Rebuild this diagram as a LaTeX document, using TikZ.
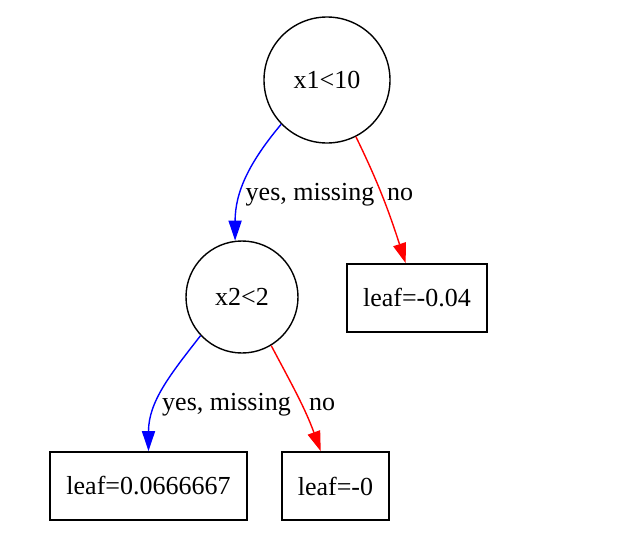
\documentclass[tikz,border=0pt]{standalone}
\usepackage{fontspec}
\setmainfont{Liberation Serif}
\usetikzlibrary{arrows.meta}
\begin{document}
\begin{tikzpicture}[x=1pt,y=-1pt,
  font=\fontsize{26}{30}\selectfont,
  split/.style={circle,draw,line width=1.4pt,inner sep=0pt,minimum size=#1},
  leafbox/.style={rectangle,draw,line width=1.6pt,inner sep=0pt,minimum height=68pt,minimum width=#1},
  edgelbl/.style={anchor=base,inner sep=0pt},
  yesedge/.style={draw={rgb,255:red,0;green,0;blue,255},line width=1.4pt,-{Triangle[length=20pt,width=13pt]}},
  noedge/.style={draw={rgb,255:red,255;green,0;blue,0},line width=1.4pt,-{Triangle[length=20pt,width=13pt]}}
]
\useasboundingbox (0,0) rectangle (633,558);
\node[split=126pt] (n0) at (327,80) {x1<10};
\node[split=112pt] (n1) at (242,297) {x2<2};
\node[leafbox=140pt] (n2) at (417,298) {leaf=-0.04};
\node[leafbox=197pt] (n3) at (148.5,486) {leaf=0.0666667};
\node[leafbox=107pt] (n4) at (335.5,486) {leaf=-0};

\path[yesedge] (n0.224) to[out=230,in=90] (n1.97);
\path[noedge] (n0.297) to[out=-64,in=108] (n2.108);
\path[yesedge] (n1.223) to[out=232,in=90] (n3.north);
\path[noedge] (n1.301) to[out=-62,in=110] (n4.113);

\node[edgelbl] (l1) at (310,200) {yes, missing};
\node[edgelbl] (l2) at (400,200) {no};
\node[edgelbl] (l3) at (226.5,410) {yes, missing};
\node[edgelbl] (l4) at (322,410) {no};
\end{tikzpicture}
\end{document}
